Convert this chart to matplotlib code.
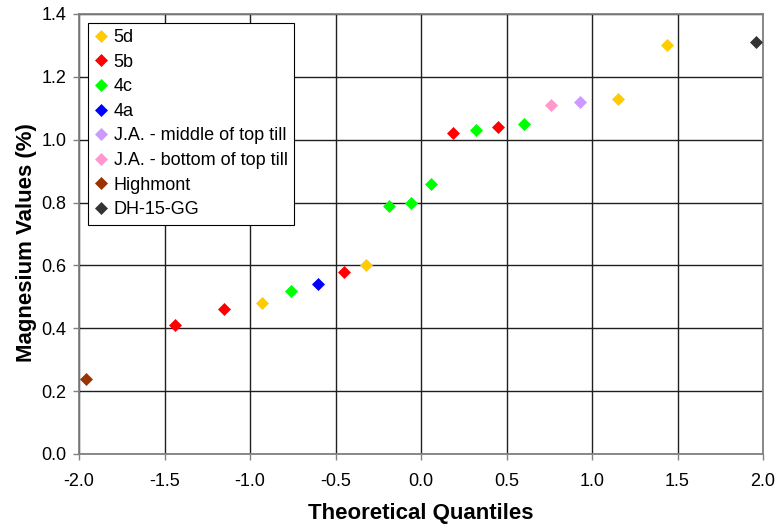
import matplotlib
matplotlib.use("Agg")
import matplotlib.pyplot as plt
from matplotlib.ticker import MultipleLocator, FormatStrFormatter

plt.rcParams["font.family"] = ["Liberation Sans", "DejaVu Sans"]

# Normal Q-Q plot of magnesium values, sorted by value
quantiles = [-1.96, -1.44, -1.15, -0.93, -0.76, -0.60, -0.45, -0.32, -0.19, -0.06,
             0.06, 0.19, 0.32, 0.45, 0.60, 0.76, 0.93, 1.15, 1.44, 1.96]
magnesium = [0.24, 0.41, 0.46, 0.48, 0.52, 0.54, 0.58, 0.60, 0.79, 0.80,
             0.86, 1.02, 1.03, 1.04, 1.05, 1.11, 1.12, 1.13, 1.30, 1.31]
groups = ["Highmont", "5b", "5b", "5d", "4c", "4a", "5b", "5d", "4c", "4c",
          "4c", "5b", "4c", "5b", "4c", "J.A. - bottom of top till",
          "J.A. - middle of top till", "5d", "5d", "DH-15-GG"]

legend_order = ["5d", "5b", "4c", "4a", "J.A. - middle of top till",
                "J.A. - bottom of top till", "Highmont", "DH-15-GG"]

group_colors = {
    "5d": "#FFCC00",
    "5b": "#FF0000",
    "4c": "#00FF00",
    "4a": "#0000FF",
    "J.A. - middle of top till": "#CC99FF",
    "J.A. - bottom of top till": "#FF99CC",
    "Highmont": "#993300",
    "DH-15-GG": "#333333",
}

fig = plt.figure(figsize=(7.79, 5.32), dpi=100)
ax = fig.add_axes([79 / 779, 1 - 454 / 532, 684 / 779, 440 / 532])

for name in legend_order:
    xs = [q for q, g in zip(quantiles, groups) if g == name]
    ys = [m for m, g in zip(magnesium, groups) if g == name]
    ax.plot(xs, ys, linestyle="none", marker="D", markersize=6.3,
            markerfacecolor=group_colors[name], markeredgecolor=group_colors[name],
            markeredgewidth=0.5, label=name, zorder=3)

ax.set_xlim(-2.0, 2.0)
ax.set_ylim(0.0, 1.4)
ax.xaxis.set_major_locator(MultipleLocator(0.5))
ax.yaxis.set_major_locator(MultipleLocator(0.2))
ax.xaxis.set_major_formatter(FormatStrFormatter("%.1f"))
ax.yaxis.set_major_formatter(FormatStrFormatter("%.1f"))

ax.set_axisbelow(True)
ax.grid(True, color="#1f1f1f", linewidth=1.0)

for side, spine in ax.spines.items():
    spine.set_color("#808080")
    spine.set_linewidth(1.3)

ax.tick_params(axis="both", direction="out", length=4, width=1.0,
               color="#808080", labelsize=13, labelcolor="black", pad=5)
ax.tick_params(axis="x", pad=10)

ax.set_xlabel("Theoretical Quantiles", fontsize=16, fontweight="bold")
ax.set_ylabel("Magnesium Values (%)", fontsize=16, fontweight="bold")
ax.xaxis.set_label_coords(0.5, -0.112)
ax.yaxis.set_label_coords(-0.061, 0.48)

leg = ax.legend(loc="upper left", bbox_to_anchor=(0.0136, 0.980), borderaxespad=0,
                fontsize=13, frameon=True, fancybox=False, framealpha=1,
                edgecolor="#000000", handlelength=0.7, handletextpad=0.35,
                labelspacing=0.42, borderpad=0.35, markerscale=1.0)
leg.get_frame().set_linewidth(0.8)

fig.savefig("out.png", dpi=100)
